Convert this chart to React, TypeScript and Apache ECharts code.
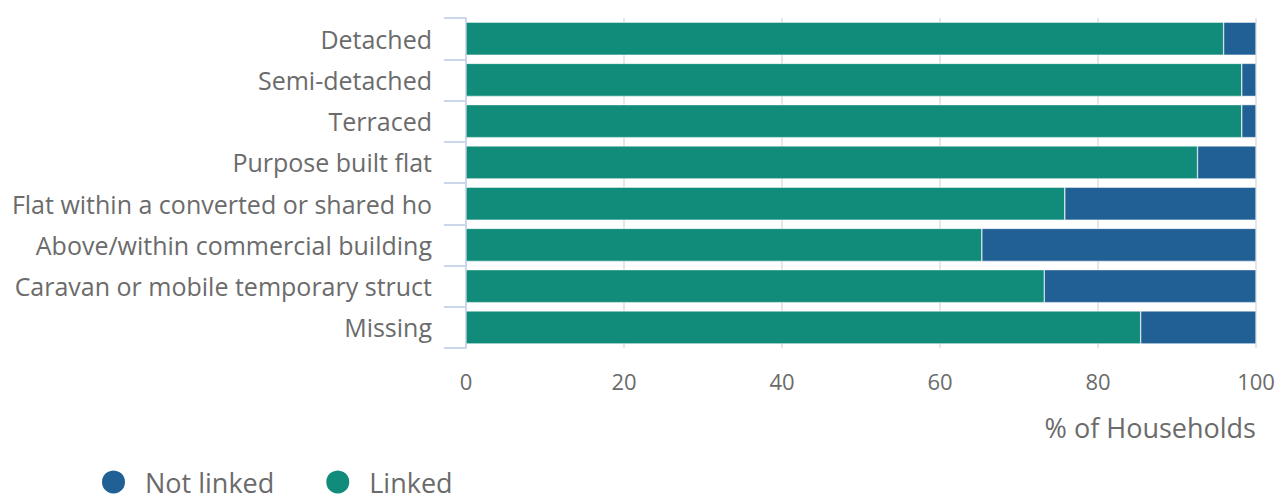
import React, { useEffect, useRef } from "react";
import * as echarts from "echarts";

const categories = [
  "Detached",
  "Semi-detached",
  "Terraced",
  "Purpose built flat",
  "Flat within a converted or shared ho",
  "Above/within commercial building",
  "Caravan or mobile temporary struct",
  "Missing",
];
const linked = [95.9, 98.2, 98.2, 92.6, 75.8, 65.3, 73.2, 85.4];
const notLinked = [4.1, 1.8, 1.8, 7.4, 24.2, 34.7, 26.8, 14.6];
const xTicks = [0, 20, 40, 60, 80, 100];

export default function App() {
  const ref = useRef<HTMLDivElement>(null);
  useEffect(() => {
    document.body.style.margin = "0";
    const chart = echarts.init(ref.current!, null, { renderer: "svg" });
    const font = "'Open Sans', 'Noto Sans', sans-serif";
    const grey = "#6b6b6b";
    chart.setOption({
      animation: false,
      textStyle: { fontFamily: font },
      grid: { left: 466, right: 24, top: 18, bottom: 154 },
      legend: {
        data: ["Not linked", "Linked"],
        left: 100,
        top: 468,
        padding: 0,
        icon: "circle",
        itemWidth: 25,
        itemHeight: 25,
        itemGap: 50,
        textStyle: {
          fontSize: 27,
          lineHeight: 28,
          color: grey,
          fontFamily: font,
          padding: [0, 0, 0, 14],
        },
      },
      xAxis: {
        type: "value",
        min: xTicks[0],
        max: xTicks[xTicks.length - 1],
        interval: 20,
        name: "% of Households",
        nameLocation: "end",
        nameGap: 0,
        nameTextStyle: {
          fontSize: 27,
          color: grey,
          align: "right",
          verticalAlign: "top",
          padding: [66, 0, 0, 0],
          fontFamily: font,
        },
        axisLine: { show: false },
        axisTick: { show: false },
        axisLabel: { fontSize: 22, color: grey, margin: 22, fontFamily: font },
        splitLine: { show: true, lineStyle: { color: "#e6e6e6", width: 2 } },
      },
      yAxis: {
        type: "category",
        data: categories,
        inverse: true,
        axisLine: { show: true, lineStyle: { color: "#ccd6eb", width: 2 } },
        axisTick: { show: true, length: 22, lineStyle: { color: "#ccd6eb", width: 2 } },
        axisLabel: { fontSize: 25, color: grey, margin: 34, fontFamily: font },
        splitLine: { show: false },
      },
      series: [
        {
          name: "Linked",
          type: "bar",
          stack: "total",
          data: linked,
          barCategoryGap: "20%",
          itemStyle: { color: "#118c7b", borderColor: "#ffffff", borderWidth: 0.5 },
        },
        {
          name: "Not linked",
          type: "bar",
          stack: "total",
          data: notLinked,
          barCategoryGap: "20%",
          itemStyle: { color: "#206095", borderColor: "#ffffff", borderWidth: 0.5 },
        },
      ],
    });
    return () => chart.dispose();
  }, []);
  return <div ref={ref} style={{ width: 1280, height: 502 }} />;
}
